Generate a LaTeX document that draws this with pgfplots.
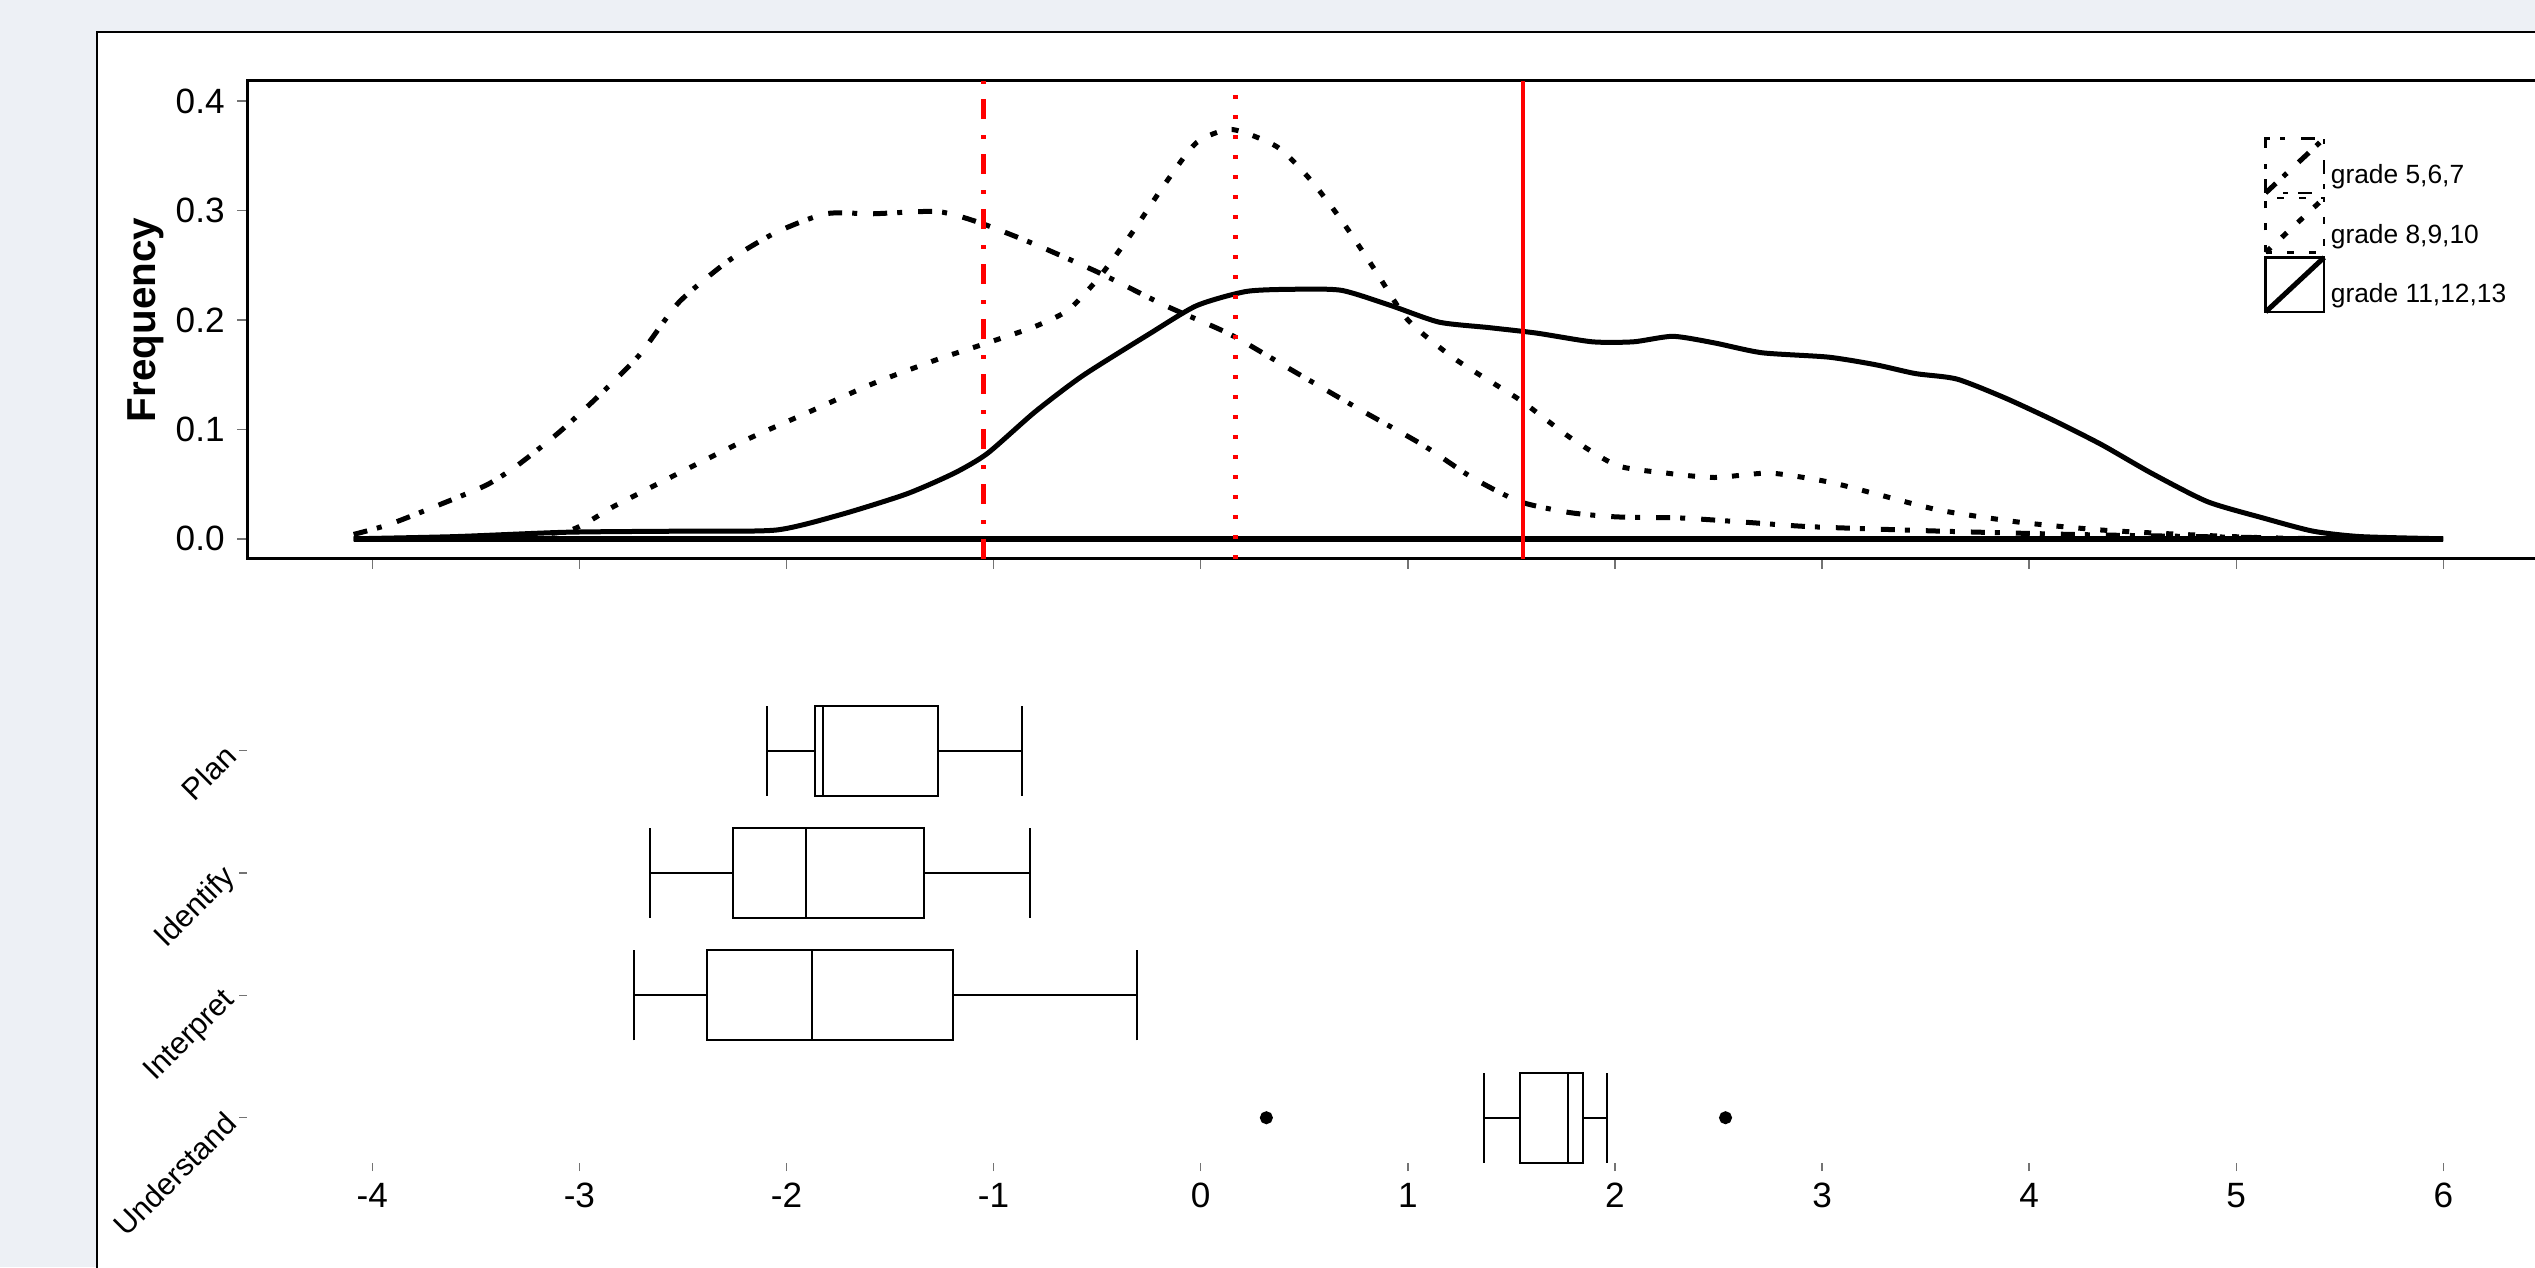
\documentclass[border=0pt]{standalone}
\usepackage{fontspec}
\setmainfont{Liberation Sans}
\usepackage{pgfplots}
\pgfplotsset{compat=1.18}
\usepgfplotslibrary{statistics}
\definecolor{bgc}{HTML}{EDF0F5}
\begin{document}
\begin{tikzpicture}[x=1cm,y=1cm]
\useasboundingbox (0,0) rectangle (25.35,12.67);
\clip (0,0) rectangle (25.35,12.67);
\fill[bgc] (0,0) rectangle (25.35,12.67);
\filldraw[fill=white, draw=black, line width=0.25mm] (0.97,-1) rectangle (27,12.35);

\begin{axis}[
  at={(2.47cm,7.08cm)}, anchor=south west,
  scale only axis, width=23.206cm, height=4.782cm,
  xmin=-4.605, xmax=6.6, ymin=-0.01846, ymax=0.4185,
  xtick={-4,-3,-2,-1,0,1,2,3,4,5,6}, xticklabels={},
  ytick={0,0.1,0.2,0.3,0.4},
  yticklabel style={/pgf/number format/fixed, /pgf/number format/fixed zerofill, /pgf/number format/precision=1},
  /pgf/number format/assume math mode=true,
  tick label style={font=\fontsize{10}{12}\selectfont},
  tick align=outside, tick pos=left,
  major tick length=1mm,
  tick style={black!55, line width=0.15mm},
  axis line style={black, line width=0.3mm},
  ylabel={\bfseries Frequency},
  every axis y label/.style={at={(axis description cs:-0.0435,0.5)}, rotate=90, anchor=center, font=\fontsize{11.5}{13}\selectfont},
  legend style={at={(axis description cs:0.8688,0.8847)}, anchor=north west, draw=none, fill=none, inner sep=0pt, outer sep=0pt, row sep=0pt, column sep=0pt, font=\fontsize{7.5}{8}\selectfont, nodes={inner sep=1.2pt}},
  legend cell align=left,
  legend image code/.code={
    \draw[#1, line width=0.25mm] (0cm,-0.16cm) rectangle (0.585cm,0.385cm);
    \draw[#1] (0cm,-0.16cm) -- (0.585cm,0.385cm);
  },
]
\addplot[black, line width=0.6mm, forget plot] coordinates {(-4.09,0) (6.0,0)};

\addplot[black, line width=0.5mm, smooth, tension=0.4, dash pattern=on 1.4mm off 1mm on 0.5mm off 1.6mm] coordinates {
(-4.09,0.004) (-3.92,0.013) (-3.69,0.03) (-3.45,0.049) (-3.30,0.067) (-3.10,0.097) (-2.91,0.13) (-2.71,0.168) (-2.52,0.216) (-2.28,0.254) (-2.05,0.28) (-1.81,0.297) (-1.58,0.297) (-1.27,0.299) (-1.07,0.289) (-0.80,0.269) (-0.49,0.243) (-0.17,0.213) (0.14,0.187) (0.45,0.153) (0.76,0.119) (1.07,0.086) (1.31,0.056) (1.54,0.034) (1.78,0.024) (2.01,0.02) (2.32,0.019) (2.64,0.015) (2.95,0.011) (3.57,0.007) (4.20,0.004) (4.82,0.002) (5.13,0.001)
};
\addlegendentry{grade 5,6,7}

\addplot[black, line width=0.5mm, smooth, tension=0.4, dash pattern=on 0.7mm off 1.5mm] coordinates {
(-4.09,0.0) (-3.5,0.001) (-3.06,0.007) (-2.83,0.03) (-2.52,0.06) (-2.20,0.09) (-1.89,0.116) (-1.58,0.142) (-1.27,0.164) (-1.03,0.179) (-0.80,0.194) (-0.64,0.209) (-0.49,0.239) (-0.33,0.28) (-0.17,0.325) (-0.02,0.362) (0.15,0.374) (0.37,0.358) (0.53,0.328) (0.68,0.291) (0.84,0.246) (1.00,0.2) (1.23,0.164) (1.54,0.127) (1.78,0.093) (2.01,0.067) (2.25,0.06) (2.48,0.056) (2.75,0.06) (3.03,0.052) (3.26,0.041) (3.57,0.026) (3.96,0.015) (4.35,0.008) (4.74,0.004) (5.13,0.001) (5.5,0.0)
};
\addlegendentry{grade 8,9,10}

\addplot[black, line width=0.5mm, smooth, tension=0.4] coordinates {
(-4.09,0.0) (-3.6,0.002) (-3.06,0.006) (-2.5,0.007) (-2.05,0.008) (-1.74,0.022) (-1.42,0.041) (-1.19,0.06) (-1.03,0.078) (-0.80,0.116) (-0.57,0.149) (-0.25,0.187) (-0.02,0.213) (0.22,0.226) (0.45,0.228) (0.68,0.227) (0.92,0.213) (1.15,0.198) (1.39,0.193) (1.62,0.188) (1.89,0.18) (2.09,0.18) (2.28,0.185) (2.48,0.179) (2.71,0.17) (3.03,0.166) (3.26,0.159) (3.45,0.151) (3.65,0.146) (3.88,0.129) (4.12,0.108) (4.35,0.086) (4.59,0.06) (4.86,0.034) (5.13,0.019) (5.37,0.007) (5.60,0.002) (6.0,0.0)
};
\addlegendentry{grade 11,12,13}

\addplot[red, line width=0.45mm, dash pattern=on 2mm off 1.5mm on 0.4mm off 1.6mm, forget plot] coordinates {(-1.05,-0.01846) (-1.05,0.4185)};
\addplot[red, line width=0.45mm, dash pattern=on 0.4mm off 1.6mm, forget plot] coordinates {(0.169,-0.01846) (0.169,0.4185)};
\addplot[red, line width=0.4mm, forget plot] coordinates {(1.556,-0.01846) (1.556,0.4185)};
\end{axis}

\begin{axis}[
  at={(2.47cm,1.04cm)}, anchor=south west,
  scale only axis, width=23.206cm, height=4.896cm,
  xmin=-4.605, xmax=6.6, ymin=0.63, ymax=4.63,
  axis line style={draw=none},
  xtick={-4,-3,-2,-1,0,1,2,3,4,5,6},
  ytick={1,2,3,4}, yticklabels={Understand,Interpret,Identify,Plan},
  /pgf/number format/assume math mode=true,
  xticklabel style={font=\fontsize{10}{12}\selectfont},
  yticklabel style={rotate=45, anchor=east, inner sep=0pt, font=\fontsize{8.7}{10}\selectfont},
  yticklabel shift=0.8mm,
  tick align=outside, tick pos=left,
  major tick length=0.8mm,
  tick style={black!55, line width=0.15mm},
  boxplot/draw direction=x,
]
\addplot[black, line width=0.2mm, boxplot prepared={draw position=4, lower whisker=-2.095, lower quartile=-1.861, median=-1.822, upper quartile=-1.268, upper whisker=-0.862, box extend=0.735, whisker extend=0.735}] coordinates {};
\addplot[black, line width=0.2mm, boxplot prepared={draw position=3, lower whisker=-2.657, lower quartile=-2.259, median=-1.908, upper quartile=-1.338, upper whisker=-0.823, box extend=0.735, whisker extend=0.735}] coordinates {};
\addplot[black, line width=0.2mm, boxplot prepared={draw position=2, lower whisker=-2.735, lower quartile=-2.384, median=-1.877, upper quartile=-1.198, upper whisker=-0.308, box extend=0.735, whisker extend=0.735}] coordinates {};
\addplot[black, line width=0.2mm, mark=*, mark size=0.55mm, mark options={fill=black}, boxplot prepared={draw position=1, lower whisker=1.37, lower quartile=1.54, median=1.772, upper quartile=1.844, upper whisker=1.962, box extend=0.735, whisker extend=0.735}] coordinates {(0,0.317) (0,2.534)};
\end{axis}
\end{tikzpicture}
\end{document}
